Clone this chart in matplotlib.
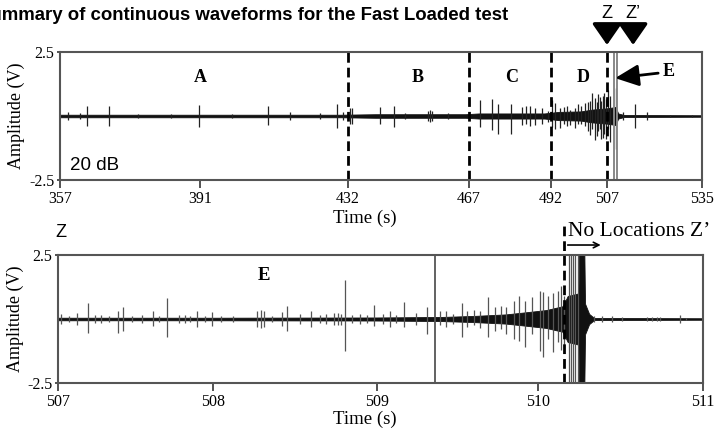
import matplotlib
matplotlib.use("Agg")
import matplotlib.pyplot as plt
import numpy as np

SERIF = "Liberation Serif"
SANS = "Liberation Sans"

# ---- top panel: whole test (357-535 s) ----
top_ticks = [357, 391, 432, 467, 492, 507, 535]
top_tick_pos = [0, 140, 288, 409, 491, 547, 642]   # hand-labelled axis, not linear
top_dashed = [432, 467, 492, 507]
top_window = [509.0, 510.0]
top_regions = ["A", "B", "C", "D"]
top_region_t = [391.0, 452.2, 480.1, 500.6]

top_env_t = [357, 430, 440, 466, 470, 490, 494, 500, 503, 507, 509.5, 510.3, 512, 535]
top_env_a = [0.05, 0.05, 0.07, 0.07, 0.1, 0.1, 0.16, 0.18, 0.25, 0.3, 0.35, 0.1, 0.04, 0.03]

top_spike_t = [358.9, 361.9, 363.6, 368.9, 376.0, 384.0, 390.8, 400.0, 409.8, 415.9,
               424.2, 428.9, 430.6, 432.6, 433.2, 441.2, 445.3, 448.5, 455.0, 455.7,
               456.3, 460.9, 470.4, 474.0, 475.8, 479.8, 483.1, 484.5, 485.6, 487.1,
               489.3, 491.1, 492.3, 493.1, 494.5, 495.5, 496.3, 497.2, 498.4, 499.2,
               500.0, 501.0, 501.9, 502.5, 503.0, 503.8, 504.2, 504.6, 505.0, 505.4,
               505.8, 506.2, 506.7, 507.3, 508.0, 509.6, 511.6, 515.3, 518.8, 525.5,
               532.0]
top_spike_up = [0.15, 0.1, 0.38, 0.4, 0.08, 0.08, 0.42, 0.08, 0.4, 0.15,
                0.12, 0.47, 0.15, 0.3, 0.3, 0.35, 0.38, 0.1, 0.2, 0.25,
                0.2, 0.12, 0.62, 0.66, 0.47, 0.47, 0.35, 0.4, 0.38, 0.3,
                0.3, 0.2, 0.62, 0.5, 0.3, 0.35, 0.4, 0.25, 0.3, 0.45,
                0.4, 0.5, 0.55, 0.6, 0.9, 0.7, 0.55, 0.85, 0.75, 0.6,
                0.8, 0.9, 0.65, 1.0, 0.8, 1.1, 0.15, 0.47, 0.15, 0.05,
                0.05]
top_spike_dn = [0.15, 0.1, 0.38, 0.4, 0.08, 0.08, 0.42, 0.08, 0.35, 0.15,
                0.12, 0.45, 0.15, 0.3, 0.3, 0.3, 0.42, 0.1, 0.2, 0.22,
                0.2, 0.12, 0.43, 0.55, 0.7, 0.7, 0.35, 0.3, 0.38, 0.35,
                0.3, 0.25, 0.43, 0.5, 0.45, 0.3, 0.4, 0.35, 0.47, 0.3,
                0.3, 0.4, 0.6, 0.75, 0.5, 0.95, 0.8, 0.6, 0.5, 0.9,
                0.85, 0.7, 0.9, 0.5, 1.0, 1.3, 0.15, 0.45, 0.15, 0.05,
                0.05]

# ---- bottom panel: zoom on Z-Z' (507-511 s) ----
bot_ticks = [507, 508, 509, 510, 511]
bot_tick_pos = [0, 155, 319, 480, 645]
bot_solid = 509.36
bot_dashed = 510.16

bot_env_t = [507, 508, 509, 509.4, 509.6, 509.8, 509.95, 510.05, 510.15, 510.18,
             510.245, 510.25, 510.28, 510.285, 510.31, 510.34, 511]
bot_env_a = [0.05, 0.05, 0.06, 0.08, 0.12, 0.18, 0.28, 0.35, 0.5, 0.9,
             1.0, 3.0, 3.0, 0.6, 0.2, 0.04, 0.03]

bot_spike_t = [507.02, 507.07, 507.12, 507.195, 507.24, 507.28, 507.33, 507.39, 507.42, 507.48,
               507.54, 507.61, 507.65, 507.705, 507.78, 507.82, 507.85, 507.895, 507.95, 507.995,
               508.05, 508.12, 508.27, 508.29, 508.31, 508.36, 508.42, 508.45, 508.53, 508.6,
               508.65, 508.69, 508.74, 508.76, 508.78, 508.805, 508.85, 508.895, 508.94, 508.98,
               509.04, 509.08, 509.12, 509.17, 509.24, 509.31, 509.39, 509.43, 509.47, 509.53,
               509.56, 509.6, 509.64, 509.69, 509.73, 509.77, 509.8, 509.85, 509.88, 509.92,
               509.96, 510.01, 510.03, 510.06, 510.09, 510.12, 510.14, 510.16, 510.19, 510.2,
               510.21, 510.225, 510.24, 510.34, 510.39, 510.45, 510.51, 510.66, 510.69, 510.72,
               510.74, 510.86, 510.9]
bot_spike_up = [0.2, 0.12, 0.23, 0.61, 0.15, 0.15, 0.12, 0.33, 0.48, 0.12,
                0.15, 0.3, 0.1, 0.81, 0.15, 0.15, 0.12, 0.3, 0.12, 0.27,
                0.1, 0.12, 0.3, 0.36, 0.3, 0.12, 0.27, 0.52, 0.2, 0.3,
                0.15, 0.2, 0.25, 0.25, 0.2, 1.53, 0.15, 0.2, 0.15, 0.56,
                0.2, 0.3, 0.15, 0.65, 0.25, 0.46, 0.3, 0.3, 0.2, 0.61,
                0.3, 0.35, 0.3, 0.87, 0.45, 0.5, 0.45, 0.72, 0.91, 0.72,
                0.85, 1.1, 1.04, 0.9, 1.0, 1.1, 1.3, 0.9, 3.0, 3.0,
                3.0, 3.0, 3.0, 0.1, 0.12, 0.1, 0.08, 0.08, 0.08, 0.08,
                0.08, 0.15, 0.05]
bot_spike_dn = [0.2, 0.12, 0.23, 0.56, 0.15, 0.15, 0.12, 0.56, 0.46, 0.12,
                0.15, 0.26, 0.1, 0.69, 0.15, 0.15, 0.12, 0.3, 0.12, 0.27,
                0.1, 0.12, 0.3, 0.36, 0.3, 0.12, 0.27, 0.48, 0.2, 0.3,
                0.15, 0.2, 0.25, 0.22, 0.25, 1.26, 0.15, 0.2, 0.15, 0.29,
                0.2, 0.3, 0.15, 0.33, 0.25, 0.59, 0.25, 0.3, 0.2, 0.69,
                0.3, 0.25, 0.35, 0.72, 0.45, 0.4, 0.6, 0.78, 0.85, 1.1,
                0.6, 1.24, 1.5, 0.8, 1.3, 0.9, 1.2, 1.1, 3.0, 3.0,
                3.0, 3.0, 3.0, 0.1, 0.12, 0.1, 0.08, 0.08, 0.08, 0.08,
                0.08, 0.15, 0.05]


def piecewise_scale(ax, knots_t, knots_p):
    fwd = lambda t: np.interp(t, knots_t, knots_p)
    inv = lambda p: np.interp(p, knots_p, knots_t)
    ax.set_xscale('function', functions=(fwd, inv))


def style_axes(ax, ticks):
    ax.set_ylim(-2.5, 2.5)
    ax.set_xlim(ticks[0], ticks[-1])
    ax.set_xticks(ticks)
    ax.set_xticklabels([str(t) for t in ticks], fontfamily=SERIF, fontsize=11.5)
    ax.set_yticks([-2.5, 2.5])
    ax.set_yticklabels(["-2.5", "2.5"], fontfamily=SERIF, fontsize=11.5)
    ax.tick_params(axis='x', direction='out', length=6, width=1.3, colors='#444',
                   labelcolor='k', pad=2)
    ax.tick_params(axis='y', direction='out', length=2, width=1.3, colors='#444',
                   labelcolor='k', pad=2)
    for s in ax.spines.values():
        s.set_color('#555')
        s.set_linewidth(1.5)
    ax.set_ylabel("Amplitude (V)", fontfamily=SERIF, fontsize=13)
    ax.set_xlabel("Time (s)", fontfamily=SERIF, fontsize=13.5)


fig = plt.figure(figsize=(7.17, 4.32), dpi=100)
ax1 = fig.add_axes([60 / 717, 1 - 180 / 432, 642 / 717, 128 / 432])
ax2 = fig.add_axes([58 / 717, 1 - 383 / 432, 645 / 717, 128 / 432])

# top panel
piecewise_scale(ax1, top_ticks, top_tick_pos)
style_axes(ax1, top_ticks)
ax1.fill_between(top_env_t, -np.array(top_env_a), top_env_a, color='#111', lw=0.6)
ax1.vlines(top_spike_t, -np.array(top_spike_dn), top_spike_up, color='#222', lw=0.9)
for t in top_dashed:
    ax1.axvline(t, color='k', lw=2, ls=(0, (3.5, 1.8)))
for t in top_window:
    ax1.axvline(t, color='#888', lw=1.4)
for lab, t in zip(top_regions, top_region_t):
    ax1.text(t, 1.52, lab, ha='center', va='center', fontfamily=SERIF,
             fontweight='bold', fontsize=13)
ax1.text(0.016, 0.11, "20 dB", transform=ax1.transAxes, ha='left', va='center',
         fontfamily=SANS, fontsize=13.5)
ax1.annotate("E", xy=(509.4, 1.48), xytext=(523.3, 1.72), ha='left', va='center',
             fontfamily=SERIF, fontweight='bold', fontsize=13,
             arrowprops=dict(arrowstyle='-|>,head_length=0.72,head_width=0.33',
                             color='k', lw=2, mutation_scale=20, shrinkA=1, shrinkB=0))
for lab, t in [("Z", 507.0), ("Z\u2019", 514.7)]:
    ax1.annotate("", xy=(t, 1.055), xytext=(t, 1.2),
                 xycoords=('data', 'axes fraction'), textcoords=('data', 'axes fraction'),
                 arrowprops=dict(arrowstyle='-|>,head_length=0.65,head_width=0.45',
                                 color='k', lw=2.5, mutation_scale=20, shrinkA=0, shrinkB=0))
    ax1.text(t, 1.3, lab, transform=ax1.get_xaxis_transform(), ha='center',
             va='center', fontfamily=SANS, fontsize=13)
ax1.xaxis.set_label_coords(0.475, -0.23)
ax1.yaxis.set_label_coords(-0.055, 0.5)

# bottom panel
piecewise_scale(ax2, bot_ticks, bot_tick_pos)
style_axes(ax2, bot_ticks)
ax2.fill_between(bot_env_t, -np.array(bot_env_a), bot_env_a, color='#111', lw=0.6)
ax2.vlines(bot_spike_t, -np.array(bot_spike_dn), bot_spike_up, color='#555', lw=0.9)
ax2.axvline(bot_solid, color='#555', lw=1.3)
ax2.axvline(bot_dashed, ymin=0, ymax=1.26, color='k', lw=2, ls=(0, (3.5, 1.8)),
            clip_on=False)
ax2.text(508.31, 1.68, "E", ha='center', va='center', fontfamily=SERIF,
         fontweight='bold', fontsize=13.5)
ax2.annotate("", xy=(510.38, 1.078), xytext=(510.18, 1.078),
             xycoords=('data', 'axes fraction'), textcoords=('data', 'axes fraction'),
             arrowprops=dict(arrowstyle='->', color='k', lw=1.2, shrinkA=0, shrinkB=0))
ax2.text(510.18, 1.18, "No Locations Z\u2019", transform=ax2.get_xaxis_transform(),
         ha='left', va='center', fontfamily=SERIF, fontsize=15.5)
ax2.xaxis.set_label_coords(0.476, -0.22)
ax2.yaxis.set_label_coords(-0.052, 0.5)

fig.text(61 / 717, 1 - 232 / 432, "Z", ha='center', va='center',
         fontfamily=SANS, fontsize=13)
# the reference is cropped on the left, so the title starts mid-word there too
fig.text(508 / 717, 1 - 15 / 432,
         "Summary of continuous waveforms for the Fast Loaded test",
         ha='right', va='center', fontfamily=SANS, fontweight='bold', fontsize=13.4)

fig.savefig("out.png", dpi=100)
